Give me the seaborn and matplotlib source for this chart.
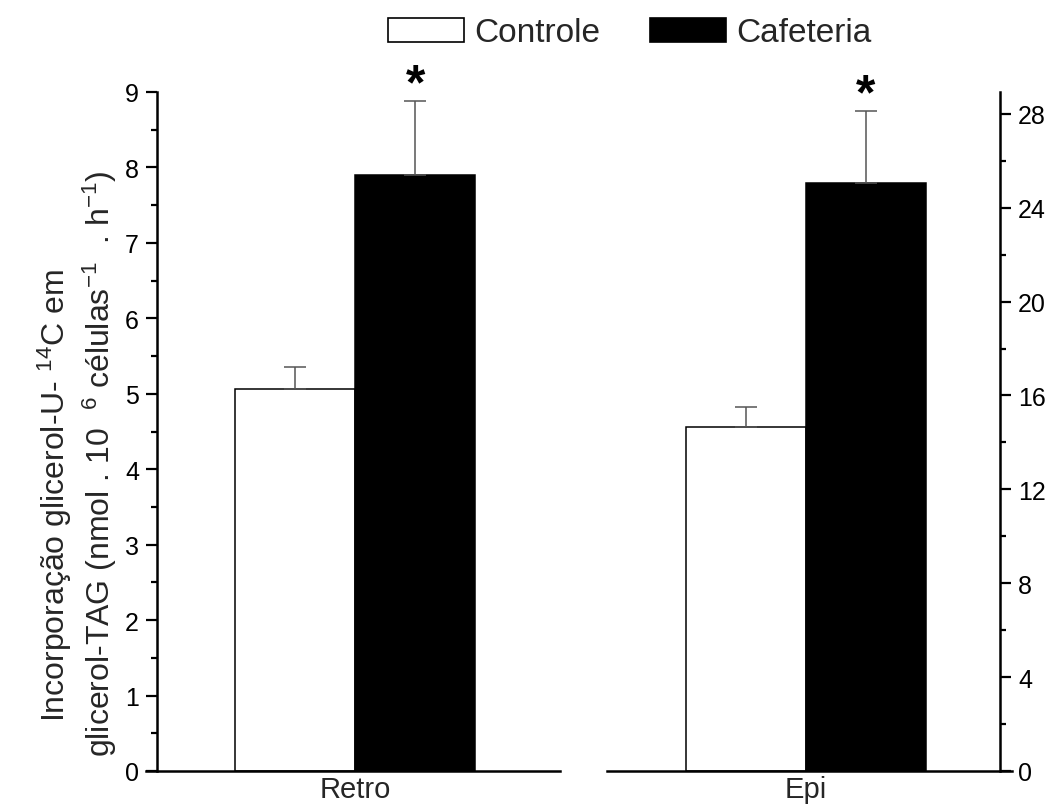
import matplotlib
matplotlib.use("Agg")
import matplotlib.pyplot as plt
from matplotlib.ticker import MultipleLocator
from matplotlib.patches import Rectangle
import seaborn as sns
import pandas as pd

# ---- data ----
groups = ["Controle", "Cafeteria"]
regions = ["Retro", "Epi"]
retro_means = [5.06, 7.90]
retro_errs = [0.29, 0.98]
epi_means = [14.66, 25.05]
epi_errs = [0.85, 3.07]
retro_yticks_major = 1
retro_yticks_minor = 0.5
epi_yticks_major = 4
epi_yticks_minor = 2
ylabel_line1 = "Incorporação glicerol-U- $^{14}$C em"
ylabel_line2 = "glicerol-TAG (nmol . 10  $^{6}$ células$^{-1}$  . h$^{-1}$)"

sns.set_theme(style="white")
base = "Liberation Sans"
plt.rcParams["font.family"] = [base, "DejaVu Sans"]
plt.rcParams["mathtext.fontset"] = "custom"
plt.rcParams["mathtext.rm"] = base
plt.rcParams["mathtext.it"] = base + ":italic"
plt.rcParams["mathtext.bf"] = base + ":bold"
plt.rcParams["mathtext.sf"] = base
fam = [base, "DejaVu Sans"]

W, H = 1050, 812
fig = plt.figure(figsize=(W / 100, H / 100), dpi=100)

def px_axes(x0, x1, ytop, ybot):
    return fig.add_axes([x0 / W, 1 - ybot / H, (x1 - x0) / W, (ybot - ytop) / H])

ax1 = px_axes(146, 560, 93, 772)
ax2 = px_axes(607, 1012, 93, 772)

palette = {"Controle": "white", "Cafeteria": "black"}
spine_w = 1.8

def draw(ax, region, means, errs, ymax, major, minor, side, xlim, spine_x):
    df = pd.DataFrame({"Regiao": [region] * len(groups), "Dieta": groups, "valor": means})
    sns.barplot(data=df, x="Regiao", y="valor", hue="Dieta", hue_order=groups,
                palette=palette, edgecolor="black", linewidth=1.1,
                errorbar=None, ax=ax, legend=False, saturation=1)
    xs = [p.get_x() + p.get_width() / 2 for p in ax.patches]
    ax.errorbar(xs, means, yerr=[[0] * len(errs), errs], fmt="none",
                ecolor="#555555", elinewidth=1.1, capsize=8, capthick=1.1, zorder=1)
    # significance marker on the Cafeteria bar
    ax.annotate("*", xy=(xs[1], means[1] + errs[1]), xytext=(0, -5),
                textcoords="offset points", ha="center", va="bottom",
                fontsize=36, fontweight="bold", color="black")
    ax.set_xlim(*xlim)
    ax.set_ylim(0, ymax)
    for s in ["top", "left", "right"]:
        ax.spines[s].set_visible(False)
    ax.spines["bottom"].set_linewidth(spine_w)
    ax.spines["bottom"].set_color("black")
    sp = ax.spines[side]
    sp.set_visible(True)
    sp.set_linewidth(spine_w)
    sp.set_color("black")
    sp.set_position(("data", spine_x))
    ax.yaxis.set_major_locator(MultipleLocator(major))
    ax.yaxis.set_minor_locator(MultipleLocator(minor))
    if side == "right":
        ax.yaxis.tick_right()
    ax.tick_params(axis="y", which="major", direction="out", length=8, width=1.6,
                   labelsize=18, pad=5, color="black", labelcolor="black",
                   left=(side == "left"), right=(side == "right"))
    ax.tick_params(axis="y", which="minor", direction="out", length=4.5, width=1.6,
                   color="black", left=(side == "left"), right=(side == "right"))
    ax.tick_params(axis="x", length=0, pad=3)
    for t in ax.get_xticklabels():
        t.set_fontsize(21)
        t.set_family(fam)
    ax.set_xlabel("")
    ax.set_ylabel("")
    ax.set_facecolor("none")

draw(ax1, regions[0], retro_means, retro_errs, 9.0, retro_yticks_major,
     retro_yticks_minor, "left", (-0.697, 0.683), -0.66)
draw(ax2, regions[1], epi_means, epi_errs, 28.93, epi_yticks_major,
     epi_yticks_minor, "right", (-0.663, 0.687), 0.647)

# y-axis title (two lines)
fig.text(55 / W, 1 - 722 / H, ylabel_line1, rotation=90, ha="center", va="bottom",
         fontsize=23, family=fam)
fig.text(100 / W, 1 - 757 / H, ylabel_line2, rotation=90, ha="center", va="bottom",
         fontsize=23, family=fam)

# legend
handles = [Rectangle((0, 0), 1, 1, facecolor=palette[g], edgecolor="black", linewidth=1.2)
           for g in groups]
fig.legend(handles, groups, loc="center", bbox_to_anchor=(630 / W, 1 - 34 / H), ncol=2,
           frameon=False, fontsize=24, handlelength=2.28, handleheight=0.75,
           handletextpad=0.3, columnspacing=1.5, borderaxespad=0)

fig.savefig("out.png", dpi=100)
